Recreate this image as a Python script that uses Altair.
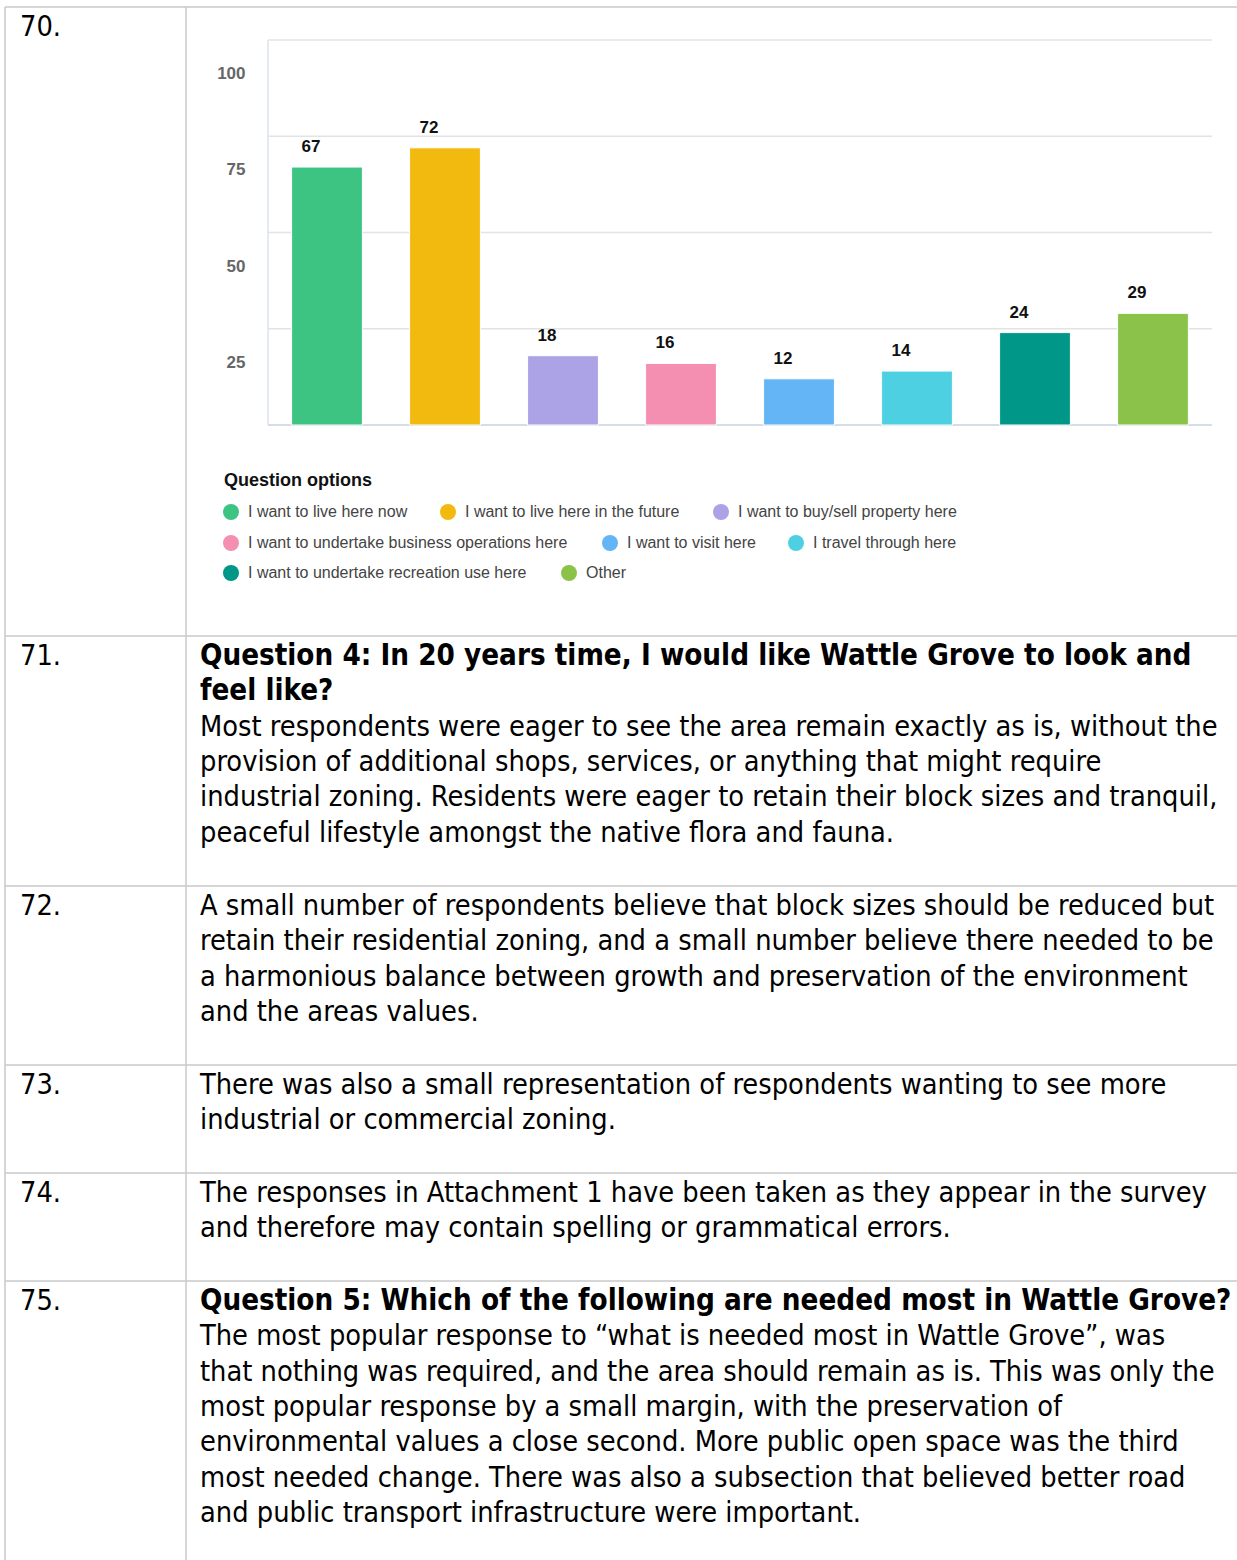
import altair as alt
import pandas as pd

# ---------------- data ----------------
options = [
    "I want to live here now",
    "I want to live here in the future",
    "I want to buy/sell property here",
    "I want to undertake business operations here",
    "I want to visit here",
    "I travel through here",
    "I want to undertake recreation use here",
    "Other",
]
counts = [67, 72, 18, 16, 12, 14, 24, 29]
colors = ["#3ec482", "#f2b90f", "#aba3e6", "#f48fb1", "#64b5f6", "#4dd0e1", "#009688", "#8bc34a"]
y_ticks = [25, 50, 75, 100]
legend_title = "Question options"

row_numbers = ["70.", "71.", "72.", "73.", "74.", "75."]
row_lines = [
    [],
    [("Question 4: In 20 years time, I would like Wattle Grove to look and", True),
     ("feel like?", True),
     ("Most respondents were eager to see the area remain exactly as is, without the", False),
     ("provision of additional shops, services, or anything that might require", False),
     ("industrial zoning. Residents were eager to retain their block sizes and tranquil,", False),
     ("peaceful lifestyle amongst the native flora and fauna.", False)],
    [("A small number of respondents believe that block sizes should be reduced but", False),
     ("retain their residential zoning, and a small number believe there needed to be", False),
     ("a harmonious balance between growth and preservation of the environment", False),
     ("and the areas values.", False)],
    [("There was also a small representation of respondents wanting to see more", False),
     ("industrial or commercial zoning.", False)],
    [("The responses in Attachment 1 have been taken as they appear in the survey", False),
     ("and therefore may contain spelling or grammatical errors.", False)],
    [("Question 5: Which of the following are needed most in Wattle Grove?", True),
     ("The most popular response to \u201cwhat is needed most in Wattle Grove\u201d, was", False),
     ("that nothing was required, and the area should remain as is. This was only the", False),
     ("most popular response by a small margin, with the preservation of", False),
     ("environmental values a close second. More public open space was the third", False),
     ("most needed change. There was also a subsection that believed better road", False),
     ("and public transport infrastructure were important.", False)],
]

# ---------------- layout ----------------
W, H = 1237, 1560
ROW_TOPS = [7, 636, 886, 1065, 1173, 1281]
TABLE_L, COL_X = 5, 186
NUM_X, TEXT_X = 20, 200
FIRST_OFF, LINE_H = 20, 35.3
DOC_FONT = "DejaVu Sans Condensed"
DOC_SIZE = 28.7
DOC_BOLD_SIZE = 29.3
CH_FONT = "Liberation Sans"
# legend entry anchors (symbol centres), laid out in flowing rows
LEGEND_POS = [(231, 512), (448, 512), (721, 512),
              (231, 543), (610, 543), (796, 543),
              (231, 573), (569, 573)]
LEGEND_LABEL_DX = 17
LEGEND_TITLE_POS = (224, 481)

normal_recs, bold_recs = [], []
for top, num, lines in zip(ROW_TOPS, row_numbers, row_lines):
    normal_recs.append({"t": num, "px": NUM_X, "py": top + FIRST_OFF})
    for i, (txt, b) in enumerate(lines):
        rec = {"t": txt, "px": TEXT_X, "py": top + FIRST_OFF + i * LINE_H}
        (bold_recs if b else normal_recs).append(rec)

border_recs = [{"x1": TABLE_L, "x2": W, "y1": t, "y2": t} for t in ROW_TOPS]
border_recs.append({"x1": TABLE_L, "x2": TABLE_L, "y1": ROW_TOPS[0], "y2": H})
border_recs.append({"x1": COL_X, "x2": COL_X, "y1": ROW_TOPS[0], "y2": H})

legend_df = pd.DataFrame({
    "option": options,
    "lx": [p[0] for p in LEGEND_POS],
    "ly": [p[1] for p in LEGEND_POS],
})

# ---------------- chart part ----------------
chart_df = pd.DataFrame({"option": options, "count": counts})
xscale = alt.Scale(domain=options, range=[268, 1212], paddingInner=0.4, paddingOuter=0.2)
yscale = alt.Scale(domain=[0, 100], range=[425, 40], nice=False)
cscale = alt.Scale(domain=options, range=colors)
yaxis = alt.Axis(values=y_ticks, grid=False, domain=False, ticks=False, tickSize=0,
                 labelPadding=0, offset=-245, labelOffset=33.5, title=None,
                 labelFont=CH_FONT, labelFontSize=17, labelFontWeight="bold",
                 labelColor="#666666")

grid = alt.Chart(pd.DataFrame({"tick": y_ticks})).mark_rule(
    color="#e3e3e3", strokeWidth=1.5
).encode(y=alt.Y("tick:Q", scale=yscale, axis=yaxis), x=alt.value(268), x2=alt.value(1212))

baseline = alt.Chart(pd.DataFrame({"tick": [0]})).mark_rule(
    color="#d5dde7", strokeWidth=2
).encode(y=alt.Y("tick:Q", scale=yscale, axis=yaxis), x=alt.value(268), x2=alt.value(1212))

leftline = alt.Chart(pd.DataFrame({"lo": [0], "hi": [100]})).mark_rule(
    color="#dce3ec", strokeWidth=1.5
).encode(y=alt.Y("hi:Q", scale=yscale, axis=yaxis), y2="lo:Q", x=alt.value(268))

bars = alt.Chart(chart_df).mark_bar(stroke="white", strokeWidth=1).encode(
    x=alt.X("option:N", scale=xscale, sort=options, axis=None),
    y=alt.Y("count:Q", scale=yscale, axis=yaxis),
    color=alt.Color("option:N", scale=cscale, legend=None),
)

labels = alt.Chart(chart_df).mark_text(
    font=CH_FONT, fontSize=17, fontWeight="bold", color="#111111", dx=-16, dy=-20
).encode(
    x=alt.X("option:N", scale=xscale, sort=options, axis=None),
    y=alt.Y("count:Q", scale=yscale, axis=yaxis),
    text="count:Q",
)

chart_layer = alt.layer(grid, baseline, leftline, bars, labels)

# ---------------- legend (flowing rows) ----------------
legend_symbols = alt.Chart(legend_df).mark_point(
    filled=True, shape="circle", size=256, opacity=1, strokeWidth=0
).encode(
    x=alt.X("lx:Q", scale=None, axis=None),
    y=alt.Y("ly:Q", scale=None, axis=None),
    color=alt.Color("option:N", scale=cscale, legend=None),
)
legend_labels = alt.Chart(legend_df).mark_text(
    font=CH_FONT, fontSize=16, color="#444444", align="left", baseline="middle",
    dx=LEGEND_LABEL_DX,
).encode(
    x=alt.X("lx:Q", scale=None, axis=None),
    y=alt.Y("ly:Q", scale=None, axis=None),
    text="option:N",
)
legend_head = alt.Chart(pd.DataFrame({"t": [legend_title]})).mark_text(
    font=CH_FONT, fontSize=18, fontWeight="bold", color="#111111",
    align="left", baseline="middle",
).encode(
    x=alt.value(LEGEND_TITLE_POS[0]), y=alt.value(LEGEND_TITLE_POS[1]), text="t:N"
)

# ---------------- document part ----------------
borders = alt.Chart(pd.DataFrame(border_recs)).mark_rule(
    color="#c9c9c9", strokeWidth=1.5
).encode(
    x=alt.X("x1:Q", scale=None, axis=None), x2="x2:Q",
    y=alt.Y("y1:Q", scale=None, axis=None), y2="y2:Q",
)

text_normal = alt.Chart(pd.DataFrame(normal_recs)).mark_text(
    font=DOC_FONT, fontSize=DOC_SIZE, align="left", baseline="middle", color="#000000"
).encode(
    x=alt.X("px:Q", scale=None, axis=None),
    y=alt.Y("py:Q", scale=None, axis=None),
    text="t:N",
)

text_bold = alt.Chart(pd.DataFrame(bold_recs)).mark_text(
    font=DOC_FONT, fontSize=DOC_BOLD_SIZE, fontWeight="bold", align="left",
    baseline="middle", color="#000000"
).encode(
    x=alt.X("px:Q", scale=None, axis=None),
    y=alt.Y("py:Q", scale=None, axis=None),
    text="t:N",
)

chart = alt.layer(
    borders, chart_layer, legend_symbols, legend_labels, legend_head, text_normal, text_bold
).resolve_scale(
    x="independent", y="independent"
).properties(
    width=W, height=H, autosize=alt.AutoSizeParams(type="none"), padding=0,
    background="white",
).configure_view(strokeWidth=0)

chart.save("out.html", embed_options={"renderer": "svg", "actions": False})
